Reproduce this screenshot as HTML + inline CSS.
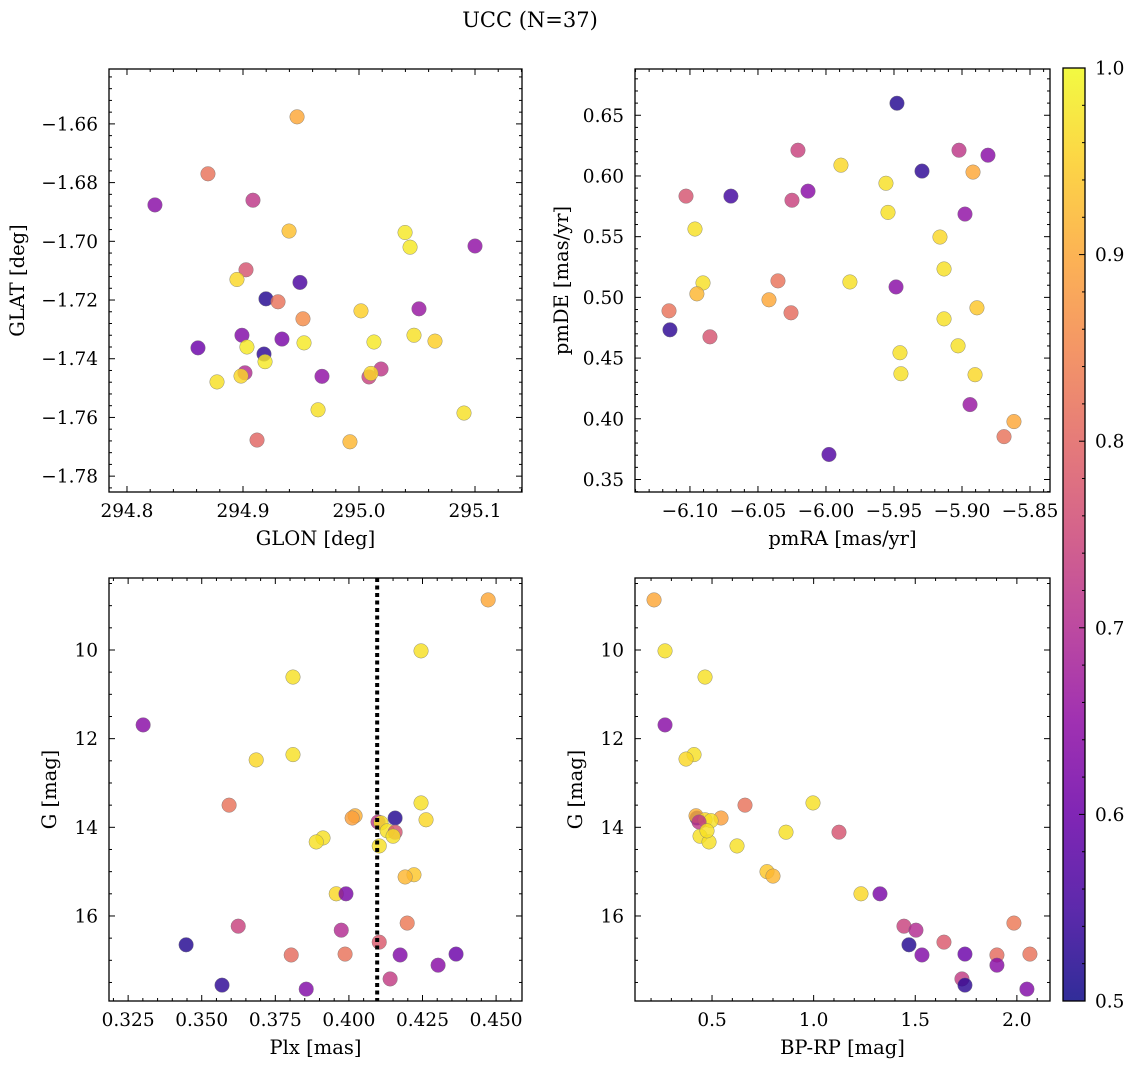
<!DOCTYPE html>
<html><head><meta charset="utf-8"><style>
body{margin:0;background:#fff}
svg{display:block;font-family:"DejaVu Serif","Liberation Serif",serif}
</style></head><body>
<svg id="fig" width="1136" height="1068" viewBox="0 0 1136 1068" xmlns="http://www.w3.org/2000/svg">
<defs><linearGradient id="cbg" x1="0" y1="1" x2="0" y2="0">
<stop offset="0" stop-color="#0d0887"/><stop offset="0.1" stop-color="#41049d"/><stop offset="0.2" stop-color="#6a00a8"/><stop offset="0.3" stop-color="#8f0da4"/><stop offset="0.4" stop-color="#b12a90"/><stop offset="0.5" stop-color="#cc4778"/><stop offset="0.6" stop-color="#e16462"/><stop offset="0.7" stop-color="#f2844b"/><stop offset="0.8" stop-color="#fca636"/><stop offset="0.9" stop-color="#fcce25"/><stop offset="1" stop-color="#f0f921"/>
</linearGradient></defs>
<text x="530" y="27" font-size="21" text-anchor="middle">UCC (N=37)</text>
</svg>
<script>
const tlGlon=[294.9466,294.8698,294.8241,294.9086,294.9397,295.0397,295.0440,295.1000,294.9026,294.8948,294.9491,294.9198,294.9302,294.9517,295.0017,295.0517,294.8991,294.9336,295.0474,295.0655,294.9526,295.0129,294.8612,294.9034,294.9181,294.9190,294.9681,294.9017,294.8983,294.8776,295.0190,295.0086,295.0103,294.9647,295.0905,294.9121,294.9922];
const tlGlat=[-1.6576,-1.677,-1.6876,-1.686,-1.6965,-1.697,-1.702,-1.7016,-1.7097,-1.713,-1.714,-1.7196,-1.7206,-1.7264,-1.7237,-1.723,-1.732,-1.7333,-1.732,-1.734,-1.7346,-1.7343,-1.7363,-1.736,-1.7384,-1.741,-1.746,-1.7448,-1.7459,-1.7479,-1.7435,-1.7462,-1.745,-1.7574,-1.7585,-1.7677,-1.7683];
const tlProb=[0.9,0.82,0.64,0.72,0.93,0.98,0.98,0.65,0.77,0.96,0.56,0.52,0.82,0.86,0.95,0.66,0.63,0.62,0.97,0.95,0.98,0.98,0.6,0.98,0.53,0.98,0.65,0.7,0.96,0.97,0.72,0.74,0.96,0.97,0.97,0.8,0.92];
const trPmra=[-5.9478,-6.0206,-5.9022,-5.8809,-5.9294,-5.8919,-5.9890,-6.0132,-6.0699,-6.1029,-6.0250,-5.9559,-5.9544,-5.8978,-6.0963,-5.9162,-5.9132,-6.0904,-5.9824,-6.0353,-6.0949,-5.9485,-6.0419,-5.8890,-6.1154,-6.0257,-5.9132,-5.9029,-6.1147,-6.0853,-5.9456,-5.9449,-5.8904,-5.8941,-5.8618,-5.8691,-5.9978];
const trPmde=[0.6599,0.6212,0.6212,0.6171,0.604,0.6032,0.6089,0.5875,0.5834,0.5834,0.580,0.594,0.570,0.5686,0.5563,0.5497,0.5234,0.5119,0.5127,0.5136,0.5029,0.5086,0.498,0.4914,0.4889,0.4873,0.4823,0.4601,0.4733,0.4675,0.4544,0.4371,0.4363,0.4117,0.3977,0.3853,0.3706];
const trProb=[0.52,0.74,0.72,0.64,0.53,0.9,0.96,0.64,0.55,0.77,0.74,0.97,0.97,0.65,0.97,0.96,0.97,0.97,0.97,0.82,0.92,0.64,0.9,0.94,0.82,0.81,0.97,0.97,0.53,0.77,0.97,0.97,0.96,0.66,0.9,0.82,0.57];
const blPlx=[0.4473,0.4245,0.3810,0.3301,0.3810,0.3685,0.3593,0.4245,0.4021,0.4011,0.4157,0.4099,0.4262,0.4109,0.4130,0.4157,0.4150,0.3912,0.3889,0.4103,0.4221,0.4191,0.3957,0.3990,0.4198,0.3624,0.3974,0.4103,0.3447,0.3804,0.3987,0.4174,0.4364,0.4303,0.4140,0.3569,0.3855];
const blG=[8.87,10.02,10.61,11.69,12.36,12.48,13.50,13.45,13.74,13.79,13.79,13.88,13.83,13.90,14.08,14.11,14.20,14.24,14.33,14.42,15.07,15.12,15.50,15.50,16.16,16.23,16.32,16.59,16.65,16.88,16.86,16.88,16.86,17.11,17.42,17.56,17.65];
const blProb=[0.9,0.97,0.97,0.64,0.97,0.96,0.82,0.97,0.91,0.89,0.52,0.72,0.96,0.97,0.97,0.77,0.97,0.97,0.97,0.97,0.94,0.92,0.96,0.62,0.83,0.74,0.7,0.78,0.52,0.81,0.82,0.63,0.6,0.64,0.73,0.53,0.63];
const plxLine=0.4096;
const brBprp=[0.2147,0.2688,0.4656,0.2688,0.4115,0.3721,0.6623,0.9968,0.4262,0.4213,0.5443,0.4656,0.4951,0.4410,0.4852,0.8640,1.1247,0.6230,0.7705,0.8000,1.2329,1.3264,1.4444,1.5034,1.6412,1.4690,1.5330,1.7445,1.9019,1.9855,2.0642,1.9019,1.7297,1.7445,2.0494,0.4361,0.4754];
const brG=[8.87,10.02,10.61,11.69,12.36,12.46,13.50,13.45,13.79,13.74,13.79,13.83,13.85,14.20,14.33,14.11,14.11,14.42,15.00,15.10,15.50,15.50,16.23,16.32,16.59,16.65,16.88,16.86,16.88,16.16,16.86,17.11,17.42,17.56,17.65,13.88,14.08];
const brProb=[0.9,0.97,0.97,0.64,0.97,0.96,0.82,0.97,0.52,0.91,0.89,0.96,0.97,0.97,0.97,0.97,0.77,0.97,0.94,0.92,0.96,0.62,0.74,0.7,0.78,0.52,0.63,0.6,0.81,0.83,0.82,0.64,0.73,0.53,0.63,0.72,0.97];
const cbTicks=[0.5,0.6,0.7,0.8,0.9,1.0];

const NS="http://www.w3.org/2000/svg";
const svg=document.getElementById('fig');
const stops=[[13,8,135],[65,4,157],[106,0,168],[143,13,164],[177,42,144],[204,71,120],[225,100,98],[242,132,75],[252,166,54],[252,206,37],[240,249,33]];
function plasma(p){let t=(p-0.5)/0.5;t=Math.max(0,Math.min(1,t))*10;const i=Math.min(9,Math.floor(t)),f=t-i;const a=stops[i],b=stops[i+1];
return 'rgb('+a.map((v,k)=>Math.round(v+(b[k]-v)*f)).join(',')+')';}
function el(tag,attrs,parent){const e=document.createElementNS(NS,tag);for(const k in attrs)e.setAttribute(k,attrs[k]);(parent||svg).appendChild(e);return e;}
function fmt(v,d){const s=Math.abs(v).toFixed(d);return (v<0?'\u2212':'')+s;}
const FS=18.5, LFS=19.5;

function panel(o){
  const g=el('g',{});
  
  
  const sx=v=>o.x0+(v-o.xmin)/(o.xmax-o.xmin)*(o.x1-o.x0);
  const sy=o.inv?(v=>o.y0+(v-o.ymin)/(o.ymax-o.ymin)*(o.y1-o.y0)):(v=>o.y1-(v-o.ymin)/(o.ymax-o.ymin)*(o.y1-o.y0));
  const pg=el('g',{},g);
  for(let i=0;i<o.xs.length;i++){
    const c=el('circle',{cx:sx(o.xs[i]),cy:sy(o.ys[i]),r:7.3,fill:plasma(o.ps[i]),'fill-opacity':0.82,stroke:'#777','stroke-width':0.4},pg);
    
    
  }
  if(o.vline!==undefined){
    const l=el('line',{x1:sx(o.vline),x2:sx(o.vline),y1:o.y0,y2:o.y1,stroke:'#000','stroke-width':4,'stroke-dasharray':'4 3.5'},g);
    
    
  }
  const tg=el('g',{stroke:'#000','stroke-width':1},g);
  const eps=1e-9;
  for(let v=Math.ceil(o.xmin/o.xminor-eps)*o.xminor;v<=o.xmax+eps;v+=o.xminor){
    const X=sx(v);const maj=o.xt.some(t=>Math.abs(t-v)<o.xminor/3);const L=maj?6:3;
    el('line',{x1:X,x2:X,y1:o.y1,y2:o.y1-L},tg);el('line',{x1:X,x2:X,y1:o.y0,y2:o.y0+L},tg);
  }
  for(let v=Math.ceil(o.ymin/o.yminor-eps)*o.yminor;v<=o.ymax+eps;v+=o.yminor){
    const Y=sy(v);const maj=o.yt.some(t=>Math.abs(t-v)<o.yminor/3);const L=maj?6:3;
    el('line',{x1:o.x0,x2:o.x0+L,y1:Y,y2:Y},tg);el('line',{x1:o.x1,x2:o.x1-L,y1:Y,y2:Y},tg);
  }
  const fr=el('rect',{x:o.x0,y:o.y0,width:o.x1-o.x0,height:o.y1-o.y0,fill:'none',stroke:'#000','stroke-width':1.3},g);
  
  
  o.xt.forEach(t=>{const tx=el('text',{x:sx(t),y:o.y1+25,'font-size':FS,'text-anchor':'middle'},g);tx.textContent=fmt(t,o.xd);
    
    });
  o.yt.forEach(t=>{const tx=el('text',{x:o.x0-11,y:sy(t)+6.5,'font-size':FS,'text-anchor':'end'},g);tx.textContent=fmt(t,o.yd);
    
    });
  const xl=el('text',{x:(o.x0+o.x1)/2,y:o.y1+53,'font-size':LFS,'text-anchor':'middle'},g);xl.textContent=o.xlab;
  
  
  const yl=el('text',{x:0,y:0,'font-size':LFS,'text-anchor':'middle',transform:`translate(${o.ylx},${(o.y0+o.y1)/2}) rotate(-90)`},g);yl.textContent=o.ylab;
  
  
}
function rng(a,b,s){const r=[];for(let v=a;v<=b+1e-9;v+=s)r.push(+v.toFixed(6));return r;}

panel({name:'glon-glat-panel',x0:109,x1:522,y0:69,y1:492,xmin:294.7845,xmax:295.1405,ymin:-1.7854,ymax:-1.6413,
  xs:tlGlon,ys:tlGlat,ps:tlProb,xt:rng(294.8,295.1,0.1),xminor:0.02,xd:1,yt:rng(-1.78,-1.66,0.02),yminor:0.004,yd:2,xlab:'GLON [deg]',ylab:'GLAT [deg]',ylx:24});
panel({name:'pm-panel',x0:635,x1:1050,y0:69,y1:492,xmin:-6.1404,xmax:-5.8353,ymin:0.3397,ymax:0.6881,
  xs:trPmra,ys:trPmde,ps:trProb,xt:rng(-6.10,-5.85,0.05),xminor:0.01,xd:2,yt:rng(0.35,0.65,0.05),yminor:0.01,yd:2,xlab:'pmRA [mas/yr]',ylab:'pmDE [mas/yr]',ylx:568});
panel({name:'plx-g-panel',x0:109,x1:522,y0:578,y1:1001,xmin:0.3185,xmax:0.4588,ymin:8.376,ymax:17.918,inv:true,
  xs:blPlx,ys:blG,ps:blProb,xt:rng(0.325,0.45,0.025),xminor:0.005,xd:3,yt:[10,12,14,16],yminor:0.5,yd:0,xlab:'Plx [mas]',ylab:'G [mag]',ylx:56,vline:plxLine});
panel({name:'cmd-panel',x0:635,x1:1050,y0:578,y1:1001,xmin:0.121,xmax:2.163,ymin:8.376,ymax:17.918,inv:true,
  xs:brBprp,ys:brG,ps:brProb,xt:[0.5,1.0,1.5,2.0],xminor:0.1,xd:1,yt:[10,12,14,16],yminor:0.5,yd:0,xlab:'BP-RP [mag]',ylab:'G [mag]',ylx:582});

const cb=el('g',{});


const cbTop=68,cbBot=1001,cbX0=1063,cbX1=1085;
el('rect',{x:cbX0,y:cbTop,width:cbX1-cbX0,height:cbBot-cbTop,fill:'url(#cbg)','fill-opacity':0.85},cb);
const cy=v=>cbBot-(v-0.5)/0.5*(cbBot-cbTop);
for(let v=0.5;v<=1.0001;v+=0.02){const Y=cy(v);const maj=cbTicks.some(t=>Math.abs(t-v)<0.005);
  el('line',{x1:cbX1,x2:cbX1-(maj?6:3),y1:Y,y2:Y,stroke:'#000','stroke-width':1},cb);}
el('rect',{x:cbX0,y:cbTop,width:cbX1-cbX0,height:cbBot-cbTop,fill:'none',stroke:'#000','stroke-width':1.3},cb);
cbTicks.forEach(t=>{const tx=el('text',{x:1095,y:cy(t)+6.5,'font-size':FS},cb);tx.textContent=t.toFixed(1);
  
  });
</script>
</body></html>
